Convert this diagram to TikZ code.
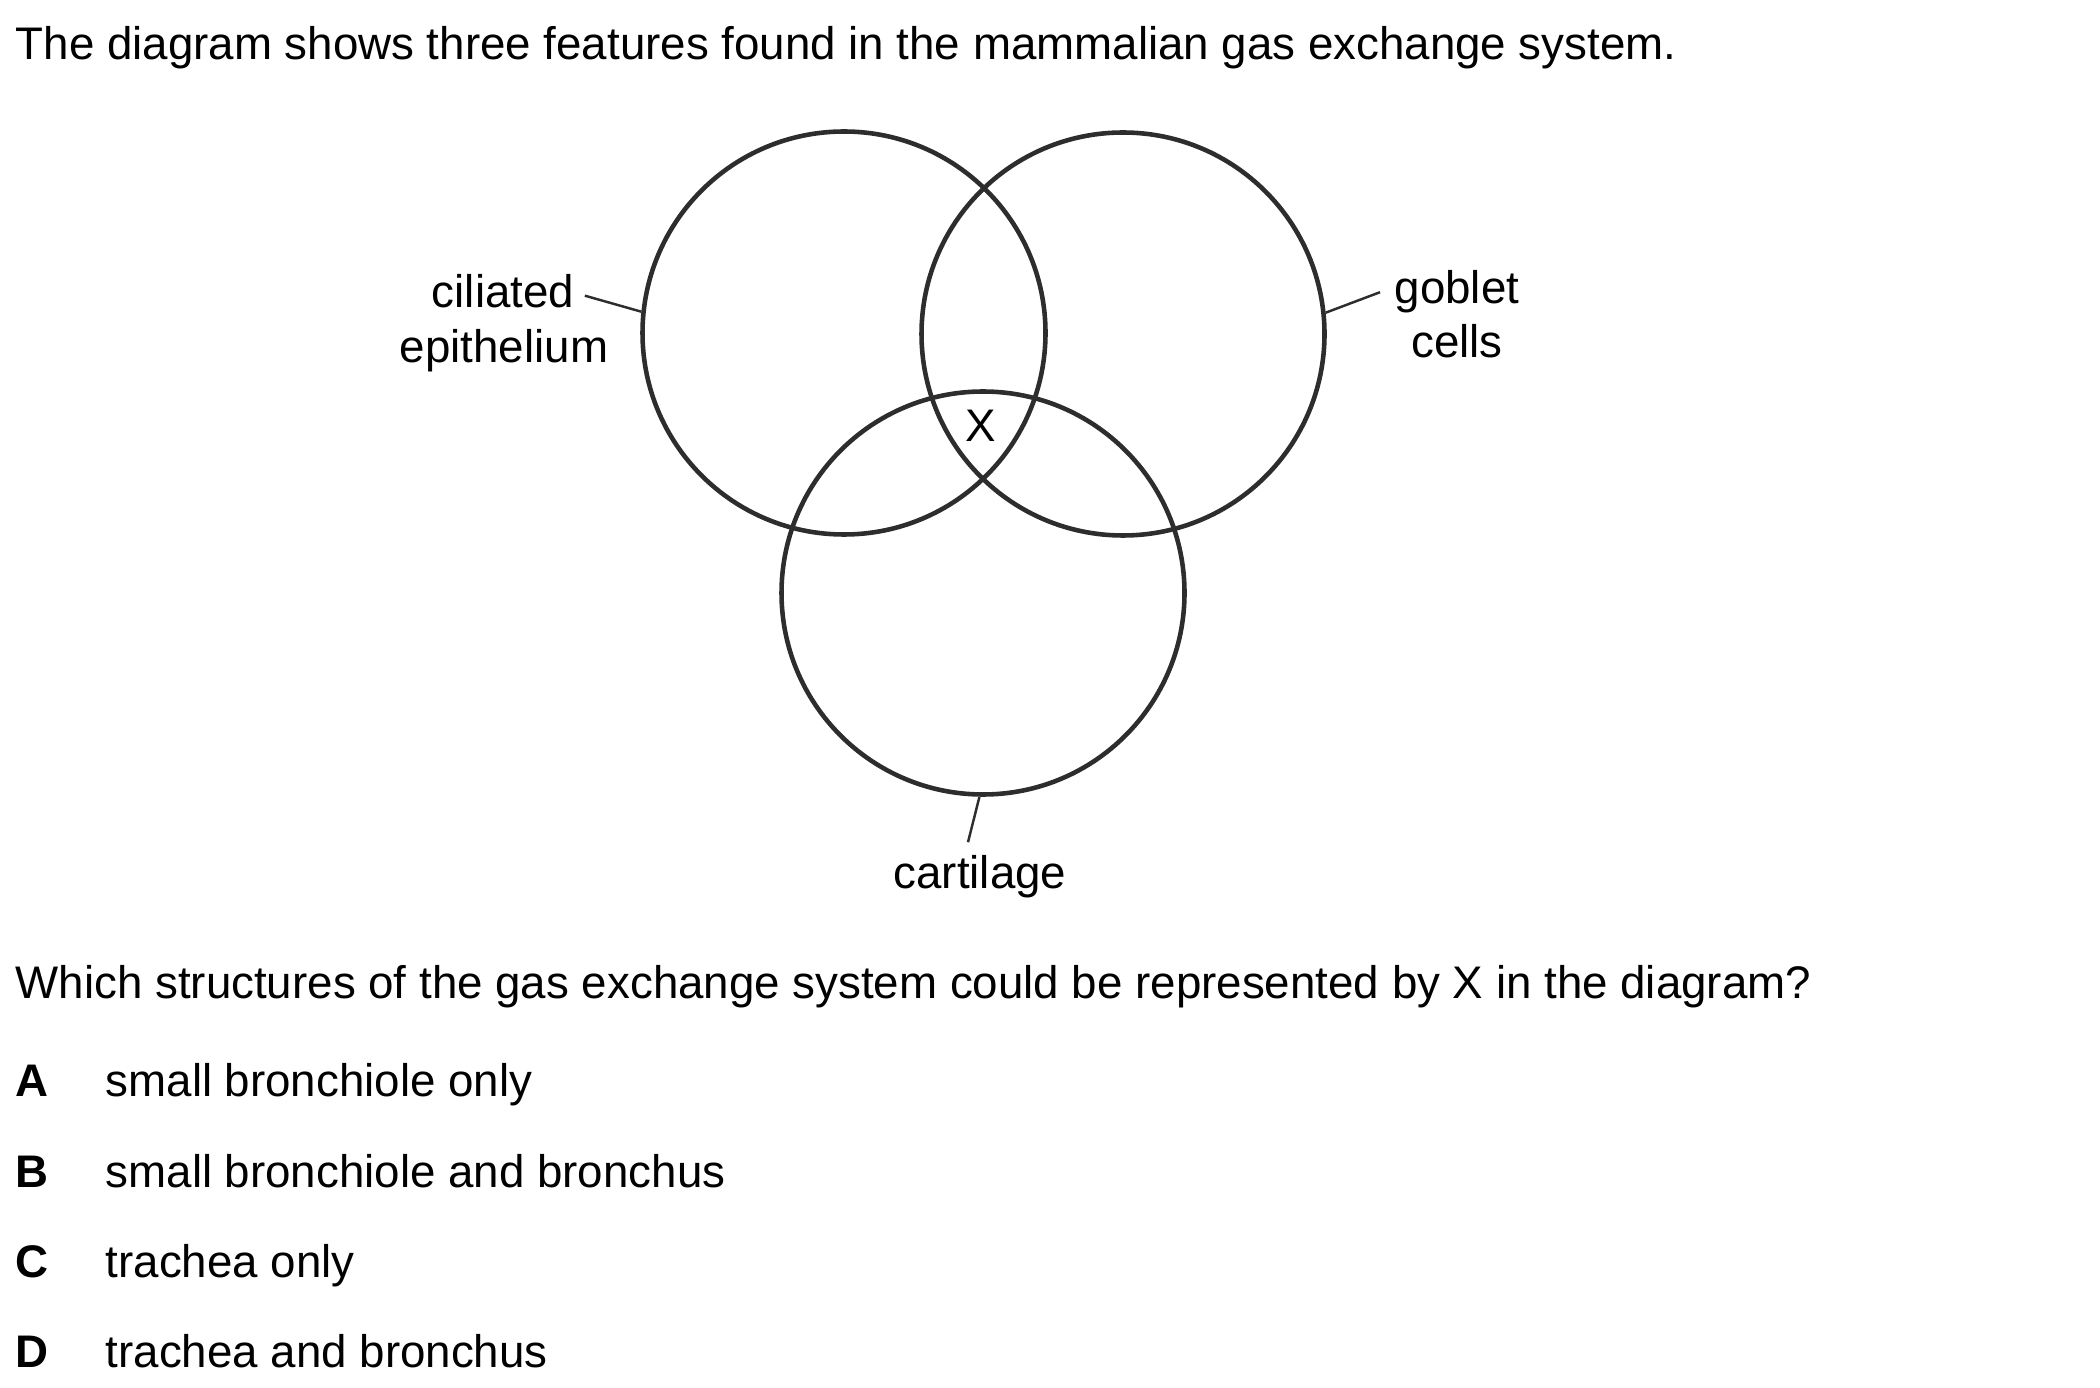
\documentclass[tikz,border=0pt]{standalone}
\usepackage{fontspec}
\setmainfont{Liberation Sans}
\usetikzlibrary{positioning}
\definecolor{ringgray}{RGB}{45,45,45}

\begin{document}
\begin{tikzpicture}[
  x=0.1mm, y=-0.1mm,
  ring/.style={draw=ringgray, circle, line width=1.3pt, minimum size=40.3mm, inner sep=0pt},
  lbl/.style={font=\fontsize{13}{15.6}\selectfont, anchor=base, inner sep=0pt},
  txt/.style={font=\fontsize{13}{15.6}\selectfont, anchor=base west, inner sep=0pt},
  optletter/.style={txt, font=\fontsize{13}{15.6}\selectfont\bfseries},
  leader/.style={draw=ringgray, line width=0.7pt},
]
\useasboundingbox (0,0) rectangle (2100,1388);

% Question text
\node[txt] (intro) at (15,60) {The diagram shows three features found in the mammalian gas exchange system.};

% Venn circles
\node[ring] (cilring) at (844,333) {};
\node[ring] (gobring) at (1123,334) {};
\node[ring] (cartring) at (983,593) {};
\node[lbl] (xmark) at (981,442) {X};

% Labels
\node[lbl] (cil1) at (503,308) {ciliated};
\node[lbl] (cil2) at (504,363) {epithelium};
\node[lbl] (gob1) at (1457,304) {goblet};
\node[lbl] (gob2) at (1457,358) {cells};
\node[lbl] (cart) at (980,888) {cartilage};

% Leader lines
\draw[leader] ([xshift=1mm, yshift=-0.4mm]cil1.east) -- (cilring.174);
\draw[leader] ([xshift=-1.4mm]gob1.west) -- (gobring.6);
\draw[leader] ([xshift=-1.2mm, yshift=1.2mm]cart.north) -- (cartring.269);

% Question and options
\node[txt] (ask) at (15,998) {Which structures of the gas exchange system could be represented by X in the diagram?};

\node[optletter] (la) at (15,1096) {A};
\node[txt] (oa) at (105,1096) {small bronchiole only};
\node[optletter] (lb) at (15,1187) {B};
\node[txt] (ob) at (105,1187) {small bronchiole and bronchus};
\node[optletter] (lc) at (15,1277) {C};
\node[txt] (oc) at (105,1277) {trachea only};
\node[optletter] (ld) at (15,1367) {D};
\node[txt] (od) at (105,1367) {trachea and bronchus};
\end{tikzpicture}
\end{document}
